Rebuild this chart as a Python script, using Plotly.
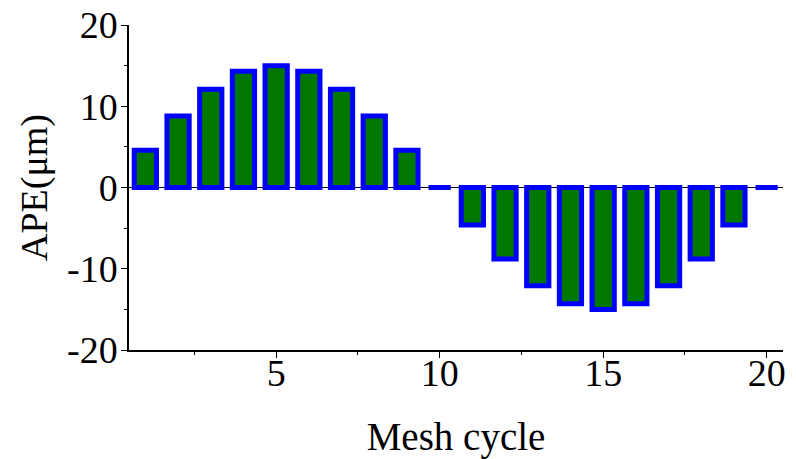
import plotly.graph_objects as go

# Mesh cycles and the corresponding APE values (µm)
cycles = list(range(1, 21))
ape = [4.6, 8.8, 12.1, 14.3, 15.0, 14.3, 12.1, 8.8, 4.6, 0.0,
       -4.6, -8.8, -12.1, -14.3, -15.0, -14.3, -12.1, -8.8, -4.6, 0.0]

y_tickvals = [20, 10, 0, -10, -20]
y_ticktext = ["20", "10", "0", "-10", "-20"]
x_tickvals = [5, 10, 15, 20]
x_ticktext = ["5", "10", "15", "20"]

font_family = "Liberation Serif"

fig = go.Figure()
fig.add_trace(go.Bar(
    x=cycles,
    y=ape,
    width=0.68,
    marker=dict(color="#007800", line=dict(color="#0000ff", width=5)),
    showlegend=False,
))

fig.update_layout(
    width=796,
    height=459,
    margin=dict(l=129, r=13, t=25, b=109),
    paper_bgcolor="white",
    plot_bgcolor="white",
    font=dict(family=font_family, size=38, color="black"),
    xaxis=dict(
        range=[0.5, 20.5],
        automargin=False,
        tickvals=x_tickvals,
        ticktext=x_ticktext,
        ticks="outside",
        ticklen=6,
        tickwidth=1,
        tickcolor="black",
        ticklabelstandoff=-17,
        minor=dict(dtick=2.5, tick0=0, ticks="outside", ticklen=3, tickcolor="black"),
        showline=True,
        linecolor="black",
        linewidth=1.5,
        showgrid=False,
        zeroline=False,
        title=dict(text="Mesh cycle", standoff=29, font=dict(family=font_family, size=39)),
        tickfont=dict(family=font_family, size=38),
    ),
    yaxis=dict(
        range=[-20, 20],
        automargin=False,
        tickvals=y_tickvals,
        ticktext=y_ticktext,
        ticks="outside",
        ticklen=6,
        tickwidth=1,
        tickcolor="black",
        ticklabelstandoff=-4,
        minor=dict(dtick=5, tick0=0, ticks="outside", ticklen=3, tickcolor="black"),
        showline=True,
        linecolor="black",
        linewidth=1.5,
        showgrid=False,
        zeroline=True,
        zerolinecolor="black",
        zerolinewidth=1,
        title=dict(text="APE(μm)", standoff=8, font=dict(family=font_family, size=38)),
        tickfont=dict(family=font_family, size=38),
    ),
)

fig.write_html("out.html")
